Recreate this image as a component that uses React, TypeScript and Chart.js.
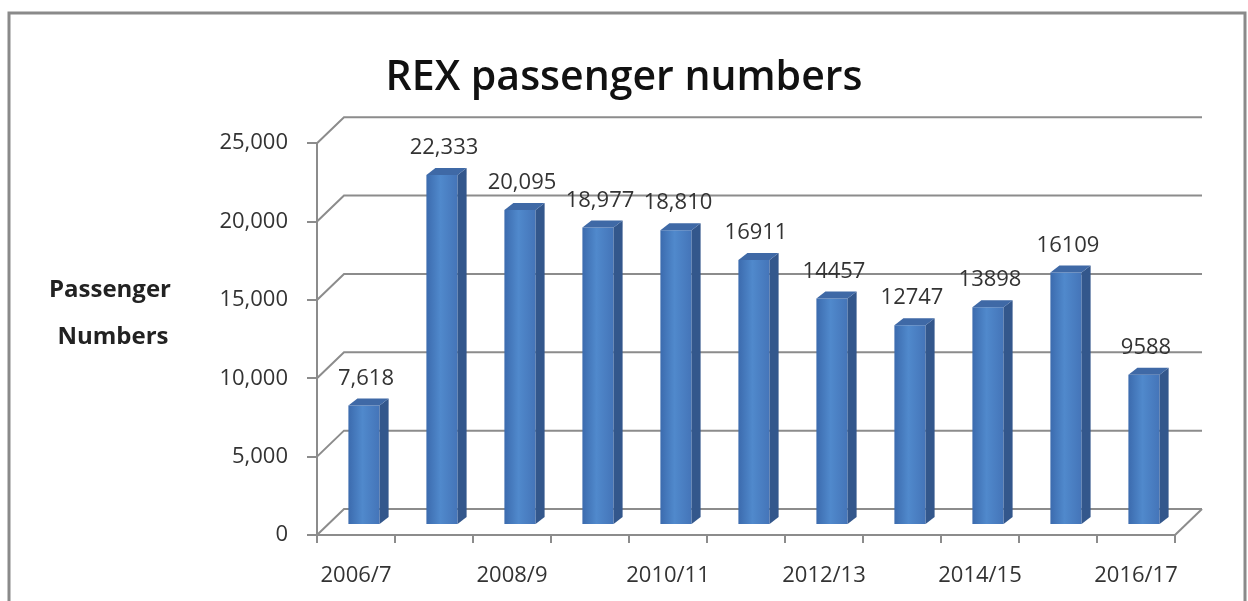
import React, { useEffect, useRef } from "react";
import { Chart, registerables } from "chart.js";

Chart.register(...registerables);

const categories = ["2006/7", "2007/8", "2008/9", "2009/10", "2010/11", "2011/12", "2012/13", "2013/14", "2014/15", "2015/16", "2016/17"];
const passengers = [7618, 22333, 20095, 18977, 18810, 16911, 14457, 12747, 13898, 16109, 9588];
const valueLabels = ["7,618", "22,333", "20,095", "18,977", "18,810", "16911", "14457", "12747", "13898", "16109", "9588"];
const yTicks = [0, 5000, 10000, 15000, 20000, 25000];
const titleText = "REX passenger numbers";
const axisTitleLines = ["Passenger", "Numbers"];

const FONT = "'Open Sans', 'DejaVu Sans', sans-serif";
const DX = 8; // bar plane offset
const DY = 10;
const WX = 27; // back wall depth
const WY = 26;
const BX = 9; // bar depth
const BY = 7;
const GRID = "#8c8c8c";

const threeD = {
  id: "threeD",
  beforeDraw(chart: any) {
    const ctx = chart.ctx;
    ctx.save();
    ctx.fillStyle = "#ffffff";
    ctx.fillRect(0, 0, chart.width, chart.height);
    ctx.strokeStyle = "#8a8a8a";
    ctx.lineWidth = 3;
    ctx.beginPath();
    ctx.moveTo(9, 640);
    ctx.lineTo(9, 13);
    ctx.lineTo(1245, 13);
    ctx.lineTo(1245, 640);
    ctx.stroke();
    ctx.restore();
  },
  beforeDatasetsDraw(chart: any) {
    const ctx = chart.ctx;
    const { left, right, bottom } = chart.chartArea;
    const y = chart.scales.y;
    ctx.save();
    ctx.strokeStyle = GRID;
    ctx.lineWidth = 2;
    yTicks.forEach((v) => {
      const py = y.getPixelForValue(v);
      ctx.beginPath();
      ctx.moveTo(left, py);
      ctx.lineTo(left + WX, py - WY);
      ctx.lineTo(right + WX, py - WY);
      ctx.stroke();
    });
    ctx.beginPath();
    ctx.moveTo(right, bottom);
    ctx.lineTo(right + WX, bottom - WY);
    ctx.stroke();
    ctx.restore();
    ctx.save();
    ctx.translate(DX, -DY);
  },
  afterDatasetsDraw(chart: any) {
    const ctx = chart.ctx;
    const meta = chart.getDatasetMeta(0);
    meta.data.forEach((bar: any) => {
      const { x, y, base, width } = bar.getProps(["x", "y", "base", "width"], true);
      const xl = x - width / 2;
      const xr = x + width / 2;
      ctx.fillStyle = "#33578c";
      ctx.beginPath();
      ctx.moveTo(xr, y);
      ctx.lineTo(xr + BX, y - BY);
      ctx.lineTo(xr + BX, base - BY);
      ctx.lineTo(xr, base);
      ctx.closePath();
      ctx.fill();
      ctx.fillStyle = "#3f69a6";
      ctx.beginPath();
      ctx.moveTo(xl, y);
      ctx.lineTo(xl + BX, y - BY);
      ctx.lineTo(xr + BX, y - BY);
      ctx.lineTo(xr, y);
      ctx.closePath();
      ctx.fill();
    });
    ctx.fillStyle = "#333333";
    ctx.font = `22px ${FONT}`;
    ctx.textAlign = "center";
    ctx.textBaseline = "middle";
    meta.data.forEach((bar: any, i: number) => {
      const { x, y } = bar.getProps(["x", "y"], true);
      ctx.fillText(valueLabels[i], x + 2, y - 27);
    });
    ctx.restore();
  },
  afterDraw(chart: any) {
    const ctx = chart.ctx;
    ctx.save();
    ctx.fillStyle = "#222222";
    ctx.font = `bold 24px ${FONT}`;
    ctx.textAlign = "center";
    ctx.textBaseline = "middle";
    ctx.fillText(axisTitleLines[0], 110, 290);
    ctx.fillText(axisTitleLines[1], 113, 337);
    ctx.restore();
  },
};

export default function App() {
  const ref = useRef<HTMLCanvasElement | null>(null);

  useEffect(() => {
    if (!ref.current) return;
    Chart.defaults.font.family = FONT;
    const chart = new Chart(ref.current, {
      type: "bar",
      data: {
        labels: categories,
        datasets: [
          {
            label: "Passenger Numbers",
            data: passengers,
            borderWidth: 0,
            categoryPercentage: 1,
            barPercentage: 0.4,
            backgroundColor: (c: any) => {
              const ch = c.chart;
              if (!ch.chartArea || !ch.scales.x) return "#4a7cc0";
              const x = ch.scales.x.getPixelForValue(c.dataIndex);
              const g = ch.ctx.createLinearGradient(x - 16, 0, x + 16, 0);
              g.addColorStop(0, "#3b6aad");
              g.addColorStop(0.45, "#5089cc");
              g.addColorStop(1, "#4474b8");
              return g;
            },
          },
        ],
      },
      options: {
        responsive: false,
        animation: false,
        events: [],
        layout: { padding: 0 },
        plugins: {
          legend: { display: false },
          tooltip: { enabled: false },
          title: {
            display: true,
            text: titleText,
            color: "#111111",
            font: { size: 41, weight: "600", family: FONT, lineHeight: 1.2 },
            padding: { top: 54, bottom: 40 },
          },
        },
        scales: {
          x: {
            grid: { drawOnChartArea: false, drawTicks: true, tickLength: 8, color: GRID, lineWidth: 2, offset: true },
            border: { display: true, color: GRID, width: 2 },
            ticks: {
              autoSkip: false,
              maxRotation: 0,
              minRotation: 0,
              padding: 20,
              color: "#333333",
              font: { size: 22, family: FONT },
              callback: (_v: any, i: number) => (i % 2 === 0 ? categories[i] : ""),
            },
            afterFit: (s: any) => {
              s.height = 66;
            },
          },
          y: {
            min: 0,
            max: 25000,
            grid: { drawOnChartArea: false, drawTicks: true, tickLength: 10, color: GRID, lineWidth: 2 },
            border: { display: true, color: GRID, width: 2 },
            afterBuildTicks: (s: any) => {
              s.ticks = yTicks.map((v) => ({ value: v }));
            },
            ticks: {
              padding: 19,
              color: "#333333",
              font: { size: 22, family: FONT },
              callback: (v: any) => Number(v).toLocaleString("en-US"),
            },
            afterFit: (s: any) => {
              s.width = 317;
            },
          },
          yRight: {
            type: "linear",
            position: "right",
            display: true,
            grid: { display: false },
            border: { display: false },
            ticks: { display: false },
            afterFit: (s: any) => {
              s.width = 73;
            },
          },
        },
      } as any,
      plugins: [threeD],
    });
    return () => chart.destroy();
  }, []);

  return (
    <div style={{ position: "fixed", left: 0, top: 0, width: 1248, height: 601, background: "#fff" }}>
      <canvas ref={ref} width={1248} height={601} style={{ display: "block" }} />
    </div>
  );
}
